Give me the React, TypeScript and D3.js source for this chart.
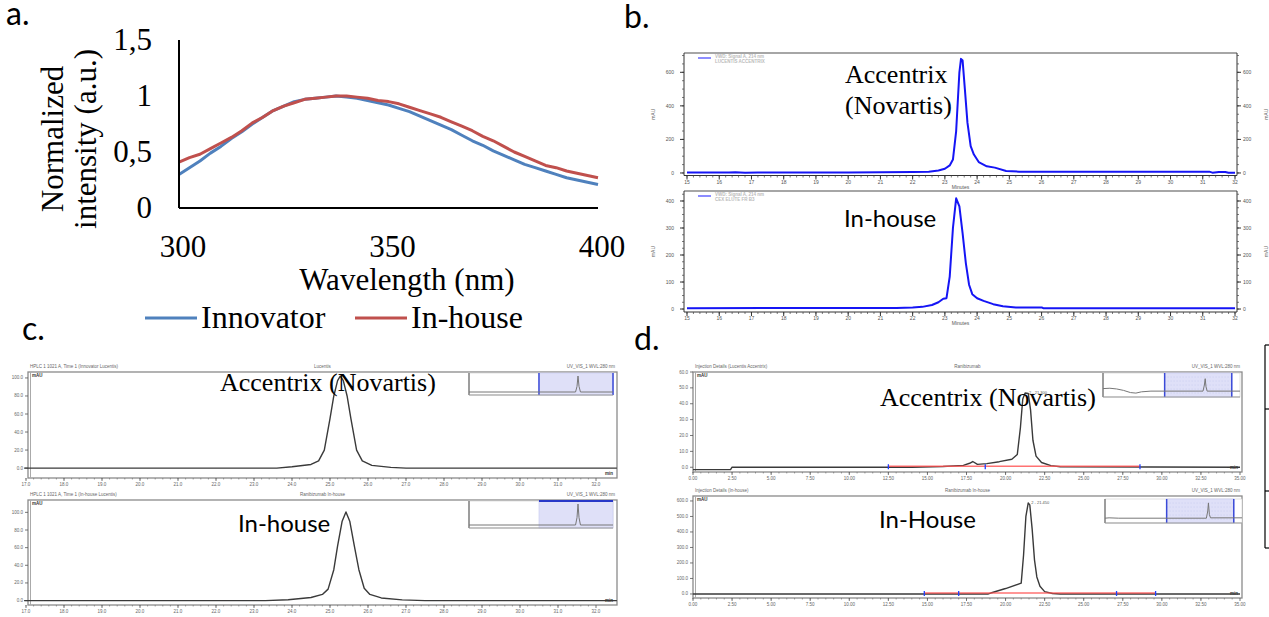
import * as d3 from 'd3';

// ---- panel a: fluorescence spectra ----
const WAVELENGTH = [
  300, 302.5, 305, 307.5, 310, 312.5, 315, 317.5, 320, 322.5, 325, 327.5, 330, 332.5, 335, 337.5, 340,
  342.5, 345, 347.5, 350, 352.5, 355, 357.5, 360, 362.5, 365, 367.5, 370, 372.5, 375, 377.5, 380, 382.5,
  385, 387.5, 390, 392.5, 395, 397.5, 400,
];
const INNOVATOR = [
  0.3, 0.36, 0.42, 0.49, 0.55, 0.62, 0.68, 0.75, 0.81, 0.87, 0.91, 0.95, 0.97, 0.98, 0.99, 1.0, 0.99,
  0.98, 0.96, 0.94, 0.92, 0.89, 0.86, 0.82, 0.78, 0.74, 0.7, 0.65, 0.6, 0.56, 0.51, 0.47, 0.43, 0.39,
  0.36, 0.33, 0.3, 0.27, 0.25, 0.23, 0.21,
];
const IN_HOUSE = [
  0.41, 0.45, 0.48, 0.53, 0.58, 0.63, 0.69, 0.76, 0.81, 0.87, 0.91, 0.94, 0.97, 0.98, 0.99, 1.0, 1.0,
  0.99, 0.98, 0.96, 0.95, 0.93, 0.9, 0.87, 0.84, 0.81, 0.77, 0.73, 0.69, 0.64, 0.6, 0.55, 0.5, 0.46,
  0.42, 0.38, 0.36, 0.33, 0.31, 0.29, 0.27,
];
const A_Y_TICKS = [0, 0.5, 1, 1.5];
const A_Y_LABELS = ['0', '0,5', '1', '1,5'];
const A_X_TICKS = [300, 350, 400];
const A_SERIES = ['Innovator', 'In-house'];
const A_COLORS = ['#4f81bd', '#c0504d'];

// ---- panel b: SEC chromatograms (minutes, mAU) ----
const B_MINUTES = [15, 16, 17, 18, 19, 20, 21, 22, 23, 24, 25, 26, 27, 28, 29, 30, 31, 32];
const B_TOP_TICKS = [0, 200, 400, 600];
const B_BOT_TICKS = [0, 100, 200, 300, 400];
const B_TOP_TRACE: [number, number][] = [
  [15, 3], [16.3, 3], [16.5, 5], [16.8, 1], [17.2, 3], [20, 3], [22, 6], [22.5, 8], [22.8, 15], [23.0, 25],
  [23.15, 45], [23.25, 80], [23.35, 250], [23.45, 600], [23.5, 680], [23.55, 670], [23.62, 500], [23.7, 300],
  [23.8, 160], [23.9, 110], [24.05, 65], [24.3, 40], [24.55, 32], [24.9, 12], [25.3, 8], [26, 8], [31.2, 8],
  [31.3, 2], [31.5, 6], [31.7, 6], [31.8, 2], [32, 2],
];
const B_BOT_TRACE: [number, number][] = [
  [15, 3], [21.5, 4], [22, 6], [22.3, 8], [22.6, 15], [22.8, 25], [22.95, 38], [23.05, 40], [23.15, 120],
  [23.25, 300], [23.35, 410], [23.45, 380], [23.55, 280], [23.65, 170], [23.75, 90], [23.85, 55], [24.0, 40],
  [24.2, 30], [24.5, 18], [24.8, 10], [25.2, 6], [26, 6], [26.05, 3], [32, 3],
];

// ---- panel c: chromatograms ----
const C_MINUTES = [17, 18, 19, 20, 21, 22, 23, 24, 25, 26, 27, 28, 29, 30, 31, 32];
const C_VALUE_TICKS = [0, 20, 40, 60, 80, 100];
const C_TOP_TRACE: [number, number][] = [
  [16.95, 0], [23.6, 0], [24.0, 1.5], [24.5, 4], [24.7, 8], [24.85, 20], [25.0, 55], [25.1, 80], [25.2, 97],
  [25.27, 102], [25.35, 97], [25.45, 80], [25.55, 55], [25.7, 20], [25.85, 8], [26.1, 3], [26.6, 0.8], [27.0, 0],
  [32.55, 0],
];
const C_BOT_TRACE: [number, number][] = [
  [16.95, 0], [23.3, 0], [23.9, 1], [24.5, 3.5], [24.8, 7], [24.95, 13], [25.1, 35], [25.2, 62], [25.32, 90],
  [25.42, 100.5], [25.52, 90], [25.64, 62], [25.76, 35], [25.9, 14], [26.05, 7], [26.35, 3], [26.9, 0.8],
  [27.5, 0], [32.55, 0],
];
const C_INSET_TRACE: [number, number][] = [[0, 0], [74, 0], [75, 0.35], [75.7, 1], [76.4, 0.35], [77.4, 0], [100, 0]];
const C_INSET_WINDOW = [48.6, 100];

// ---- panel d: chromatograms ----
const D_MINUTES = [0, 2.5, 5, 7.5, 10, 12.5, 15, 17.5, 20, 22.5, 25, 27.5, 30, 32.5, 35];
const D_TOP_TICKS = [0, 10, 20, 30, 40, 50, 60];
const D_BOT_TICKS = [0, 100, 200, 300, 400, 500, 600];
const D_TOP_TRACE: [number, number][] = [
  [0, -1.5], [2.4, -1.5], [2.5, 0], [14, 0], [16, 0.5], [17.3, 1.2], [17.7, 2.5], [17.9, 3.6], [18.2, 1.8],
  [18.8, 2.3], [19.6, 3.5], [20.4, 5], [20.75, 8], [20.95, 25], [21.1, 43], [21.25, 46.8], [21.45, 46.5],
  [21.6, 36], [21.75, 17], [21.95, 7], [22.3, 3], [22.9, 1], [23.5, 0.3], [35, 0],
];
const D_BOT_TRACE: [number, number][] = [
  [0, 0], [18.9, 0], [19.05, 6], [20.0, 35], [21.0, 70], [21.15, 250], [21.3, 500], [21.45, 587], [21.55, 575],
  [21.7, 420], [21.85, 220], [22.0, 110], [22.2, 50], [22.5, 15], [23.0, 3], [23.5, 0], [35, 0],
];
const D_TOP_BASELINE = [12.5, 28.6];
const D_TOP_MARKS = [12.5, 18.7, 28.6];
const D_BOT_BASELINE = [14.8, 29.6];
const D_BOT_MARKS = [14.8, 17.0, 27.1, 29.6];
const D_INSET_TOP: [number, number][] = [
  [0, 0.3], [5, 0.32], [10, 0.28], [15, 0.2], [20, 0.08], [24, 0.05], [28, 0.12], [35, 0.16], [73, 0.16],
  [74, 0.5], [74.6, 0.85], [75.2, 0.4], [76, 0.16], [100, 0.16],
];
const D_INSET_BOT: [number, number][] = [
  [0, 0.1], [3, 0.12], [10, 0.1], [74, 0.1], [75, 0.5], [75.5, 0.95], [76.2, 0.3], [77, 0.12], [100, 0.12],
];
const D_INSET_WINDOW = [45, 94];

const SERIF = '"Liberation Serif", "Times New Roman", serif';
const SANS = 'Lato, "Open Sans", sans-serif';
const TINY = '"Liberation Sans", Arial, sans-serif';

type Box = { x0: number; x1: number; y0: number; y1: number };

function PanelA() {
  const x = d3.scaleLinear().domain([300, 400]).range([179, 598]);
  const y = d3.scaleLinear().domain([0, 1.5]).range([208, 40]);
  const line = d3
    .line<number>()
    .x((_, i) => x(WAVELENGTH[i]))
    .y((d) => y(d));
  return (
    <g>
      <text x={6} y={25} fontFamily={SANS} fontSize={32}>a.</text>
      {[INNOVATOR, IN_HOUSE].map((s, i) => (
        <path key={i} d={line(s) ?? ''} fill="none" stroke={A_COLORS[i]} strokeWidth={3} strokeLinejoin="round" />
      ))}
      <line x1={x(300)} x2={x(300)} y1={y(1.5)} y2={y(0)} stroke="#000" strokeWidth={2} />
      <line x1={x(300)} x2={x(400)} y1={y(0)} y2={y(0)} stroke="#000" strokeWidth={2} />
      {A_Y_TICKS.map((t, i) => (
        <text key={t} x={152} y={y(t) + 10} textAnchor="end" fontFamily={SERIF} fontSize={31}>
          {A_Y_LABELS[i]}
        </text>
      ))}
      {A_X_TICKS.map((t) => (
        <text key={t} x={x(t) + 4} y={257} textAnchor="middle" fontFamily={SERIF} fontSize={31}>
          {t}
        </text>
      ))}
      <text x={407} y={290} textAnchor="middle" fontFamily={SERIF} fontSize={31}>Wavelength (nm)</text>
      <text transform="translate(63,139) rotate(-90)" textAnchor="middle" fontFamily={SERIF} fontSize={31}>
        Normalized
      </text>
      <text transform="translate(96,139) rotate(-90)" textAnchor="middle" fontFamily={SERIF} fontSize={31}>
        intensity (a.u.)
      </text>
      {A_SERIES.map((name, i) => {
        const lx = i === 0 ? 145 : 355;
        return (
          <g key={name}>
            <line x1={lx} x2={lx + 52} y1={318} y2={318} stroke={A_COLORS[i]} strokeWidth={3} />
            <text x={lx + 56} y={328} fontFamily={SERIF} fontSize={32}>{name}</text>
          </g>
        );
      })}
    </g>
  );
}

function AgilentChart({
  box, yDomain, ticks, minor, trace, legend,
}: { box: Box; yDomain: [number, number]; ticks: number[]; minor: number; trace: [number, number][]; legend: string[] }) {
  const x = d3.scaleLinear().domain([15, 32]).range([687, 1235]);
  const y = d3.scaleLinear().domain(yDomain).range([box.y1, box.y0]);
  const line = d3.line<[number, number]>().x((d) => x(d[0])).y((d) => y(d[1]));
  const minorTicks = d3.range(0, yDomain[1], minor);
  const minorX = d3.range(15, 32.01, 0.2);
  const midY = (box.y0 + box.y1) / 2;
  return (
    <g fontFamily={TINY}>
      <line x1={box.x0} x2={box.x1} y1={box.y0} y2={box.y0} stroke="#888" strokeWidth={1.5} />
      <line x1={box.x0} x2={box.x0} y1={box.y0} y2={box.y1} stroke="#333" strokeWidth={1} />
      <line x1={box.x1} x2={box.x1} y1={box.y0} y2={box.y1} stroke="#333" strokeWidth={1} />
      <line x1={box.x0} x2={box.x1} y1={box.y1} y2={box.y1} stroke="#333" strokeWidth={1} />
      {minorTicks.map((t) => (
        <g key={t}>
          <line x1={box.x0 - 2} x2={box.x0} y1={y(t)} y2={y(t)} stroke="#444" strokeWidth={0.7} />
          <line x1={box.x1} x2={box.x1 + 2} y1={y(t)} y2={y(t)} stroke="#444" strokeWidth={0.7} />
        </g>
      ))}
      {ticks.map((t) => (
        <g key={t}>
          <line x1={box.x0 - 4} x2={box.x0} y1={y(t)} y2={y(t)} stroke="#333" strokeWidth={1} />
          <line x1={box.x1} x2={box.x1 + 4} y1={y(t)} y2={y(t)} stroke="#333" strokeWidth={1} />
          <text x={box.x0 - 10} y={y(t) + 2} textAnchor="end" fontSize={5} fill="#555">{t}</text>
          <text x={box.x1 + 6} y={y(t) + 2} fontSize={5} fill="#555">{t}</text>
        </g>
      ))}
      {minorX.map((t, i) => (
        <line key={i} x1={x(t)} x2={x(t)} y1={box.y1} y2={box.y1 + 2} stroke="#444" strokeWidth={0.7} />
      ))}
      {B_MINUTES.map((t) => (
        <g key={t}>
          <line x1={x(t)} x2={x(t)} y1={box.y1} y2={box.y1 + 4} stroke="#333" strokeWidth={1} />
          <text x={x(t)} y={box.y1 + 8} textAnchor="middle" fontSize={5} fill="#555">{t}</text>
        </g>
      ))}
      <text x={(box.x0 + box.x1) / 2} y={box.y1 + 13} textAnchor="middle" fontSize={5} fill="#555">Minutes</text>
      <text transform={`translate(655,${midY}) rotate(-90)`} textAnchor="middle" fontSize={5} fill="#666">mAU</text>
      <text transform={`translate(1268,${midY}) rotate(-90)`} textAnchor="middle" fontSize={5} fill="#666">mAU</text>
      <line x1={698} x2={711} y1={box.y0 + 5} y2={box.y0 + 5} stroke="#4040ff" strokeWidth={1.2} />
      {legend.map((l, i) => (
        <text key={l} x={715} y={box.y0 + 5 + i * 5} fontSize={4.5} fill="#bbb" fontWeight="bold">{l}</text>
      ))}
      <path d={line(trace) ?? ''} fill="none" stroke="#1515f5" strokeWidth={2} strokeLinejoin="round" />
    </g>
  );
}

function Inset({
  box, trace, window, blueTop, grid,
}: { box: Box; trace: [number, number][]; window: number[]; blueTop: boolean; grid: boolean }) {
  const x = d3.scaleLinear().domain([0, 100]).range([box.x0, box.x1]);
  const y = d3.scaleLinear().domain([0, 1]).range([box.y1 - 3, box.y0 + 3]);
  const line = d3.line<[number, number]>().x((d) => x(d[0])).y((d) => y(d[1]));
  const wx0 = x(window[0]);
  const wx1 = x(window[1]);
  return (
    <g>
      <rect x={box.x0} y={box.y0} width={box.x1 - box.x0} height={box.y1 - box.y0} fill="#fff" stroke="#ccc" strokeWidth={0.6} />
      <rect x={wx0} y={box.y0} width={wx1 - wx0} height={box.y1 - box.y0} fill="#dfe0f8" stroke="#c6c8f0" strokeWidth={0.6} />
      {grid &&
        d3.range(1, 6).map((k) => (
          <line key={k} x1={wx0} x2={wx1} y1={box.y0 + (k * (box.y1 - box.y0)) / 6} y2={box.y0 + (k * (box.y1 - box.y0)) / 6}
            stroke="#b8bce8" strokeWidth={0.5} strokeDasharray="1 2" />
        ))}
      {blueTop && <line x1={wx0} x2={wx1} y1={box.y0} y2={box.y0} stroke="#2838c8" strokeWidth={2} />}
      {!blueTop && (
        <g>
          <line x1={wx0} x2={wx0} y1={box.y0} y2={box.y1} stroke="#3a4ad8" strokeWidth={1.5} />
          <line x1={wx1} x2={wx1} y1={box.y0} y2={box.y1} stroke="#3a4ad8" strokeWidth={1.5} />
        </g>
      )}
      <line x1={box.x0} x2={box.x0} y1={box.y0} y2={box.y1} stroke="#666" strokeWidth={1.2} />
      <line x1={box.x0} x2={box.x1} y1={box.y1} y2={box.y1} stroke="#999" strokeWidth={1} />
      <path d={line(trace) ?? ''} fill="none" stroke="#777" strokeWidth={1} />
    </g>
  );
}

function LabChart({
  box, xDomain, xRange, xTicks, xFmt, yDomain, yTicks, yFmt, trace, header, children,
}: {
  box: Box; xDomain: number[]; xRange: number[]; xTicks: number[]; xFmt: (v: number) => string; yDomain: number[];
  yTicks: number[]; yFmt: (v: number) => string; trace: [number, number][]; header: string[]; children?: any;
}) {
  const x = d3.scaleLinear().domain(xDomain).range(xRange);
  const y = d3.scaleLinear().domain(yDomain).range([box.y1, box.y0]);
  const line = d3.line<[number, number]>().x((d) => x(d[0])).y((d) => y(d[1]));
  const minorX = d3.range(xDomain[0], xDomain[1], (xTicks[1] - xTicks[0]) / 5);
  return (
    <g fontFamily={TINY}>
      <text x={box.x0 + 2} y={box.y0 - 4} fontSize={4.5} fill="#666">{header[0]}</text>
      <text x={(box.x0 + box.x1) / 2} y={box.y0 - 4} textAnchor="middle" fontSize={4.5} fill="#666">{header[1]}</text>
      <text x={box.x1 - 2} y={box.y0 - 4} textAnchor="end" fontSize={4.5} fill="#666">{header[2]}</text>
      <rect x={box.x0} y={box.y0} width={box.x1 - box.x0} height={box.y1 - box.y0} fill="none" stroke="#8a8a8a" strokeWidth={1.3} />
      <line x1={box.x0 + 2.5} x2={box.x0 + 2.5} y1={box.y0} y2={box.y1} stroke="#aaa" strokeWidth={1} />
      <text x={box.x0 + 4} y={box.y0 + 5} fontSize={4.5} fill="#333" fontWeight="bold">mAU</text>
      <text x={box.x1 - 4} y={box.y1 - 3} textAnchor="end" fontSize={4.5} fill="#333" fontWeight="bold">min</text>
      {yTicks.map((t) => (
        <g key={t}>
          <line x1={box.x0 - 3} x2={box.x0} y1={y(t)} y2={y(t)} stroke="#555" strokeWidth={0.8} />
          <text x={box.x0 - 5} y={y(t) + 1.5} textAnchor="end" fontSize={4.5} fill="#666">{yFmt(t)}</text>
        </g>
      ))}
      {minorX.map((t, i) => (
        <line key={i} x1={x(t)} x2={x(t)} y1={box.y1} y2={box.y1 + 1.5} stroke="#666" strokeWidth={0.6} />
      ))}
      {xTicks.map((t) => (
        <g key={t}>
          <line x1={x(t)} x2={x(t)} y1={box.y1} y2={box.y1 + 3} stroke="#555" strokeWidth={0.8} />
          <text x={x(t)} y={box.y1 + 8} textAnchor="middle" fontSize={4.5} fill="#666">{xFmt(t)}</text>
        </g>
      ))}
      <path d={line(trace) ?? ''} fill="none" stroke="#3a3a3a" strokeWidth={1.4} strokeLinejoin="round" />
      {children && children(x, y)}
    </g>
  );
}

function Integration({
  baseline, marks, label, peak,
}: { baseline: number[]; marks: number[]; label: string; peak: [number, number] }) {
  return (x: d3.ScaleLinear<number, number>, y: d3.ScaleLinear<number, number>) => (
    <g>
      <line x1={x(baseline[0])} x2={x(baseline[1])} y1={y(0) - 1} y2={y(0) - 1} stroke="#ff5050" strokeWidth={1.6} opacity={0.8} />
      {marks.map((m) => (
        <line key={m} x1={x(m)} x2={x(m)} y1={y(0) - 3} y2={y(0) + 2} stroke="#2040ff" strokeWidth={1.3} />
      ))}
      <text x={x(peak[0]) + 3} y={y(peak[1]) + 1} fontSize={4} fill="#555">{label}</text>
    </g>
  );
}

export default function App() {
  const cFmt = (v: number) => v.toFixed(1);
  const dFmt = (v: number) => v.toFixed(2);
  const cTop: Box = { x0: 28, x1: 617, y0: 372, y1: 478 };
  const cBot: Box = { x0: 28, x1: 617, y0: 500, y1: 605 };
  const dTop: Box = { x0: 693, x1: 1242, y0: 372, y1: 472 };
  const dBot: Box = { x0: 693, x1: 1242, y0: 496, y1: 598 };
  return (
    <svg width={1269} height={617} style={{ position: 'absolute', left: 0, top: 0, background: '#fff' }}>
      <rect width={1269} height={617} fill="#fff" />
      <PanelA />

      <text x={624} y={28} fontFamily={SANS} fontSize={32}>b.</text>
      <AgilentChart box={{ x0: 684, x1: 1237, y0: 53, y1: 175.5 }} yDomain={[-15, 715]} ticks={B_TOP_TICKS} minor={50}
        trace={B_TOP_TRACE} legend={['VWD: Signal A, 214 nm', 'LUCENTIS ACCENTRIX']} />
      <AgilentChart box={{ x0: 684, x1: 1237, y0: 191, y1: 312 }} yDomain={[-11, 437]} ticks={B_BOT_TICKS} minor={25}
        trace={B_BOT_TRACE} legend={['VWD: Signal A, 214 nm', 'CEX ELUTE FR B3']} />
      <text x={845} y={83} fontFamily={SERIF} fontSize={26}>Accentrix</text>
      <text x={845} y={114} fontFamily={SERIF} fontSize={26}>(Novartis)</text>
      <text x={844} y={227} fontFamily={SANS} fontSize={24}>In-house</text>

      <text x={22} y={340} fontFamily={SANS} fontSize={32}>c.</text>
      <LabChart box={cTop} xDomain={[17, 32]} xRange={[26, 596]} xTicks={C_MINUTES} xFmt={cFmt} yDomain={[-11, 106.6]}
        yTicks={C_VALUE_TICKS} yFmt={cFmt} trace={C_TOP_TRACE}
        header={['HPLC 1 1021 A, Time 1 (Innovator Lucentis)', 'Lucentis', 'UV_VIS_1 WVL:280 nm']} />
      <Inset box={{ x0: 469, x1: 613, y0: 373, y1: 395 }} trace={C_INSET_TRACE} window={C_INSET_WINDOW} blueTop={false} grid={false} />
      <LabChart box={cBot} xDomain={[17, 32]} xRange={[26, 596]} xTicks={C_MINUTES} xFmt={cFmt} yDomain={[-5, 114]}
        yTicks={C_VALUE_TICKS} yFmt={cFmt} trace={C_BOT_TRACE}
        header={['HPLC 1 1021 A, Time 1 (In-house Lucentis)', 'Ranibizumab In-house', 'UV_VIS_1 WVL:280 nm']} />
      <Inset box={{ x0: 469, x1: 613, y0: 501, y1: 528 }} trace={C_INSET_TRACE} window={C_INSET_WINDOW} blueTop={true} grid={false} />
      <text x={220} y={391} fontFamily={SERIF} fontSize={26}>Accentrix (Novartis)</text>
      <text x={238} y={532} fontFamily={SANS} fontSize={24}>In-house</text>

      <text x={634} y={350} fontFamily={SANS} fontSize={32}>d.</text>
      <LabChart box={dTop} xDomain={[0, 35]} xRange={[693, 1240]} xTicks={D_MINUTES} xFmt={dFmt} yDomain={[-3, 60]}
        yTicks={D_TOP_TICKS} yFmt={cFmt} trace={D_TOP_TRACE}
        header={['Injection Details (Lucentis Accentrix)', 'Ranibizumab', 'UV_VIS_1 WVL:280 nm']}>
        {Integration({ baseline: D_TOP_BASELINE, marks: D_TOP_MARKS, label: '2 - 21.300', peak: [21.3, 46.8] })}
      </LabChart>
      <Inset box={{ x0: 1103, x1: 1240, y0: 373, y1: 397 }} trace={D_INSET_TOP} window={D_INSET_WINDOW} blueTop={false} grid={true} />
      <LabChart box={dBot} xDomain={[0, 35]} xRange={[693, 1240]} xTicks={D_MINUTES} xFmt={dFmt} yDomain={[-26, 632]}
        yTicks={D_BOT_TICKS} yFmt={cFmt} trace={D_BOT_TRACE}
        header={['Injection Details (In-house)', 'Ranibizumab In-house', 'UV_VIS_1 WVL:280 nm']}>
        {Integration({ baseline: D_BOT_BASELINE, marks: D_BOT_MARKS, label: '2 - 21.450', peak: [21.45, 587] })}
      </LabChart>
      <Inset box={{ x0: 1105, x1: 1242, y0: 499, y1: 523 }} trace={D_INSET_BOT} window={D_INSET_WINDOW} blueTop={false} grid={true} />
      <text x={880} y={406} fontFamily={SERIF} fontSize={26}>Accentrix (Novartis)</text>
      <text x={879} y={528} fontFamily={SANS} fontSize={24}>In-House</text>

      <g stroke="#000" strokeWidth={1.2}>
        <line x1={1265} x2={1265} y1={345} y2={548} />
        {[345, 409, 491, 548].map((yy) => (
          <line key={yy} x1={1265} x2={1269} y1={yy} y2={yy} />
        ))}
      </g>
    </svg>
  );
}
